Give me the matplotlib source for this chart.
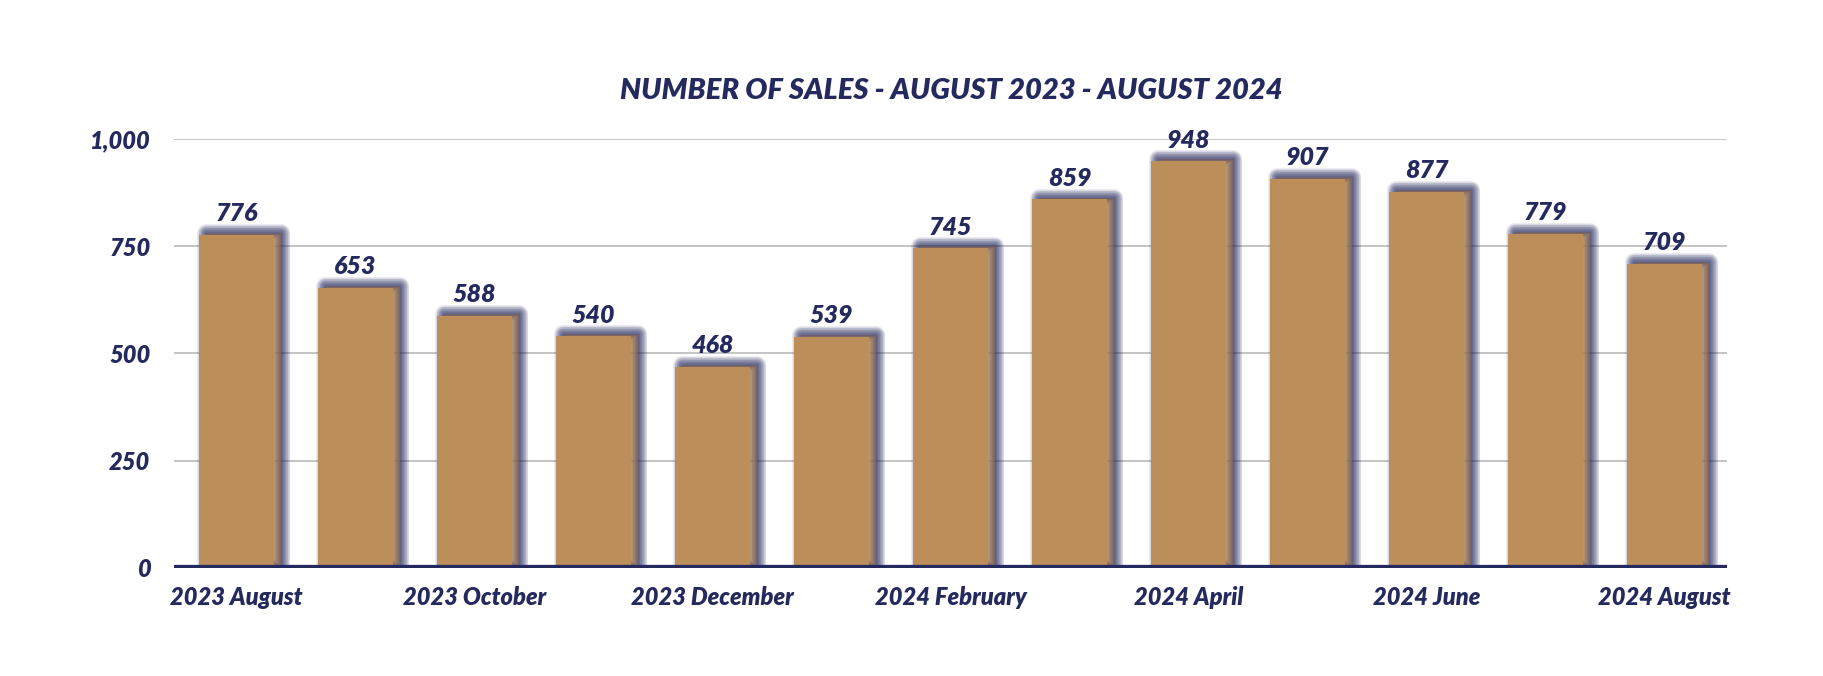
import matplotlib.pyplot as plt
import matplotlib.patheffects as pe
import numpy as np

# ─── data ──────────────────────────────────────────────────────────
months = ["2023 August", "2023 September", "2023 October", "2023 November",
          "2023 December", "2024 January", "2024 February", "2024 March",
          "2024 April", "2024 May", "2024 June", "2024 July", "2024 August"]
sales = [776, 653, 588, 540, 468, 539, 745, 859, 948, 907, 877, 779, 709]
yticks = [0, 250, 500, 750, 1000]

NAVY = "#252a5e"
GOLD = "#bc8e5a"
WEIGHT = "heavy"
FONT = dict(family="Lato", weight=WEIGHT, style="italic", color=NAVY)

fig = plt.figure(figsize=(18.24, 6.76), dpi=100)
ax = fig.add_axes([0.0954, 0.1598, 0.8514, 0.6346])

x = np.arange(len(sales))
bars = ax.bar(x, sales, width=0.63, color=GOLD, zorder=2)

# soft navy drop shadow, up and to the right (stacked translucent strokes)
shadow = [pe.Stroke(linewidth=w, foreground=NAVY, alpha=0.09,
                    offset=(4.8, 1.4), joinstyle="round")
          for w in range(13, 0, -1)]
for b in bars:
    b.set_path_effects(shadow + [pe.Normal()])

for xi, v in zip(x, sales):
    ax.annotate(f"{v:,}", (xi, v), xytext=(0, 7), textcoords="offset points",
                ha="center", va="bottom", fontsize=18, **FONT)

ax.set_xlim(-0.525, len(sales) - 0.475)
ax.set_ylim(0, 1000)
ax.set_yticks(yticks)
ax.set_yticklabels([f"{t:,}" for t in yticks])
ax.set_xticks(x[::2])
ax.set_xticklabels(months[::2])
for lab in ax.get_xticklabels() + ax.get_yticklabels():
    lab.set_fontfamily("Lato")
    lab.set_fontweight(WEIGHT)
    lab.set_fontstyle("italic")
    lab.set_color(NAVY)
    lab.set_fontsize(17)
ax.tick_params(axis="both", length=0)
ax.tick_params(axis="y", pad=17)
ax.tick_params(axis="x", pad=13)

ax.grid(axis="y", color="#b4b4b4", lw=1.1, zorder=0)
ax.set_axisbelow(True)
for s in ax.spines.values():
    s.set_visible(False)
ax.axhline(0, color=NAVY, lw=4.5, zorder=3)

fig.text(0.5214, 0.866, "NUMBER OF SALES - AUGUST 2023 - AUGUST 2024",
         ha="center", va="center", fontsize=21, **FONT)

fig.savefig("out.png", dpi=100, facecolor="white")
